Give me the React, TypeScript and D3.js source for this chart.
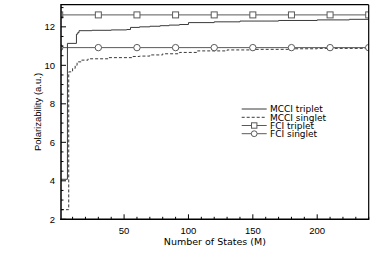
import React from "react";
import * as d3 from "d3";

const W = 374;
const H = 264;

// MCCI triplet: [M, polarizability]
const mcciTripletM = [1, 6, 13, 14, 15, 25, 40, 52, 55, 62, 70, 78, 85, 93, 100, 120, 140, 170, 200, 225, 240];
const mcciTripletV = [4.08, 11.14, 11.62, 11.7, 11.8, 11.82, 11.84, 11.86, 11.97, 12.0, 12.03, 12.06, 12.09, 12.12, 12.22, 12.26, 12.3, 12.33, 12.36, 12.39, 12.4];

// MCCI singlet
const mcciSingletM = [1, 7, 10, 12, 13.5, 17, 22, 38, 56, 62, 70, 80, 93, 107, 130, 150, 180, 200, 240];
const mcciSingletV = [2.5, 9.66, 9.84, 10.0, 10.18, 10.27, 10.34, 10.4, 10.46, 10.48, 10.54, 10.6, 10.67, 10.75, 10.8, 10.83, 10.86, 10.88, 10.9];

// FCI reference values
const fciTriplet = 12.62;
const fciSinglet = 10.92;
const fciMarkerM = [0, 30, 60, 90, 120, 150, 180, 210, 240];

const xTicks = [50, 100, 150, 200];
const yTicks = [2, 4, 6, 8, 10, 12];

const legendLabels = ["MCCI triplet", "MCCI singlet", "FCI triplet", "FCI singlet"];

export default function App() {
  const left = 61, right = 368.7, top = 4.7, bottom = 219.3;
  const x = d3.scaleLinear().domain([1, 240]).range([left, right]);
  const y = d3.scaleLinear().domain([2, 13.15]).range([bottom, top]);

  const step = d3
    .line<[number, number]>()
    .x((d) => x(d[0]))
    .y((d) => y(d[1]))
    .curve(d3.curveStepAfter);

  const tripData: [number, number][] = mcciTripletM.map((m, i) => [m, mcciTripletV[i]]);
  const singData: [number, number][] = mcciSingletM.map((m, i) => [m, mcciSingletV[i]]);

  const xMinor = d3.range(10, 241, 10).filter((v) => v % 50 !== 0);
  const yMinor = d3.range(2.5, 13.1, 0.5).filter((v) => Math.abs(v - Math.round(v / 2) * 2) > 0.01);

  const lineCol = "#3a3a3a";
  const fciCol = "#5a5a5a";
  const tickFont = "'Liberation Sans', Arial, sans-serif";
  const humanFont = "'DejaVu Sans', Verdana, sans-serif";

  const legX0 = 241.7, legX1 = 266.7, legTextX = 270;
  const legY = [109, 117.3, 125.5, 133.7];

  return (
    <svg width={W} height={H} style={{ position: "absolute", left: 0, top: 0, background: "#fff" }}>
      <defs>
        <clipPath id="plotclip">
          <rect x={left} y={top} width={right - left} height={bottom - top} />
        </clipPath>
      </defs>
      <rect x={0} y={0} width={W} height={H} fill="#fff" />
      <g clipPath="url(#plotclip)">
        <line x1={left} x2={right} y1={y(fciTriplet)} y2={y(fciTriplet)} stroke={fciCol} strokeWidth={1} />
        <line x1={left} x2={right} y1={y(fciSinglet)} y2={y(fciSinglet)} stroke={fciCol} strokeWidth={1} />
        <path d={step(tripData) || ""} fill="none" stroke={lineCol} strokeWidth={1} />
        <path d={step(singData) || ""} fill="none" stroke={lineCol} strokeWidth={1} strokeDasharray="3,2" />
        {fciMarkerM.map((m) => (
          <rect key={"s" + m} x={x(m) - 3} y={y(fciTriplet) - 3} width={6} height={6} fill="#fff" stroke={fciCol} strokeWidth={1} />
        ))}
        {fciMarkerM.map((m) => (
          <circle key={"c" + m} cx={x(m)} cy={y(fciSinglet)} r={3.2} fill="#fff" stroke={fciCol} strokeWidth={1} />
        ))}
      </g>

      {/* frame */}
      <line x1={left} x2={right} y1={top} y2={top} stroke="#000" strokeWidth={1.2} />
      <line x1={right} x2={right} y1={top} y2={bottom} stroke="#000" strokeWidth={1.2} />
      <line x1={left} x2={left} y1={top - 0.6} y2={bottom + 0.75} stroke="#000" strokeWidth={1.5} />
      <line x1={left - 0.75} x2={right + 0.6} y1={bottom} y2={bottom} stroke="#000" strokeWidth={1.5} />

      {xTicks.map((t) => (
        <g key={"xt" + t}>
          <line x1={x(t)} x2={x(t)} y1={bottom} y2={bottom - 5} stroke="#000" strokeWidth={1} />
          <text x={x(t)} y={233.5} textAnchor="middle" fontFamily={tickFont} fontSize={9.5} fill="#000">
            {t}
          </text>
        </g>
      ))}
      {xMinor.map((t) => (
        <line key={"xm" + t} x1={x(t)} x2={x(t)} y1={bottom} y2={bottom - 2.5} stroke="#000" strokeWidth={1} />
      ))}

      {yTicks.map((t) => (
        <g key={"yt" + t}>
          <line x1={left} x2={left + 5} y1={y(t)} y2={y(t)} stroke="#000" strokeWidth={1} />
          <text x={55} y={y(t) + 3.4} textAnchor="end" fontFamily={tickFont} fontSize={9.5} fill="#000">
            {t}
          </text>
        </g>
      ))}
      {yMinor.map((t) => (
        <line key={"ym" + t} x1={left} x2={left + 2.5} y1={y(t)} y2={y(t)} stroke="#000" strokeWidth={1} />
      ))}

      <text x={(left + right) / 2} y={245} textAnchor="middle" fontFamily={humanFont} fontSize={9.5} fill="#000">
        Number of States (M)
      </text>
      <text
        transform={`translate(41,${(top + bottom) / 2}) rotate(-90)`}
        textAnchor="middle"
        fontFamily={tickFont}
        fontSize={9.5}
        fill="#000"
      >
        Polarizability (a.u.)
      </text>

      {legendLabels.map((lab, i) => (
        <g key={lab}>
          <line
            x1={legX0}
            x2={legX1}
            y1={legY[i]}
            y2={legY[i]}
            stroke={i < 2 ? lineCol : fciCol}
            strokeWidth={1}
            strokeDasharray={i === 1 ? "3,2" : undefined}
          />
          {i === 2 && (
            <rect x={(legX0 + legX1) / 2 - 2.7} y={legY[i] - 2.7} width={5.4} height={5.4} fill="#fff" stroke={fciCol} strokeWidth={1} />
          )}
          {i === 3 && <circle cx={(legX0 + legX1) / 2} cy={legY[i]} r={2.9} fill="#fff" stroke={fciCol} strokeWidth={1} />}
          <text x={legTextX} y={legY[i] + 3.3} fontFamily={humanFont} fontSize={9} fill="#000">
            {lab}
          </text>
        </g>
      ))}
    </svg>
  );
}
